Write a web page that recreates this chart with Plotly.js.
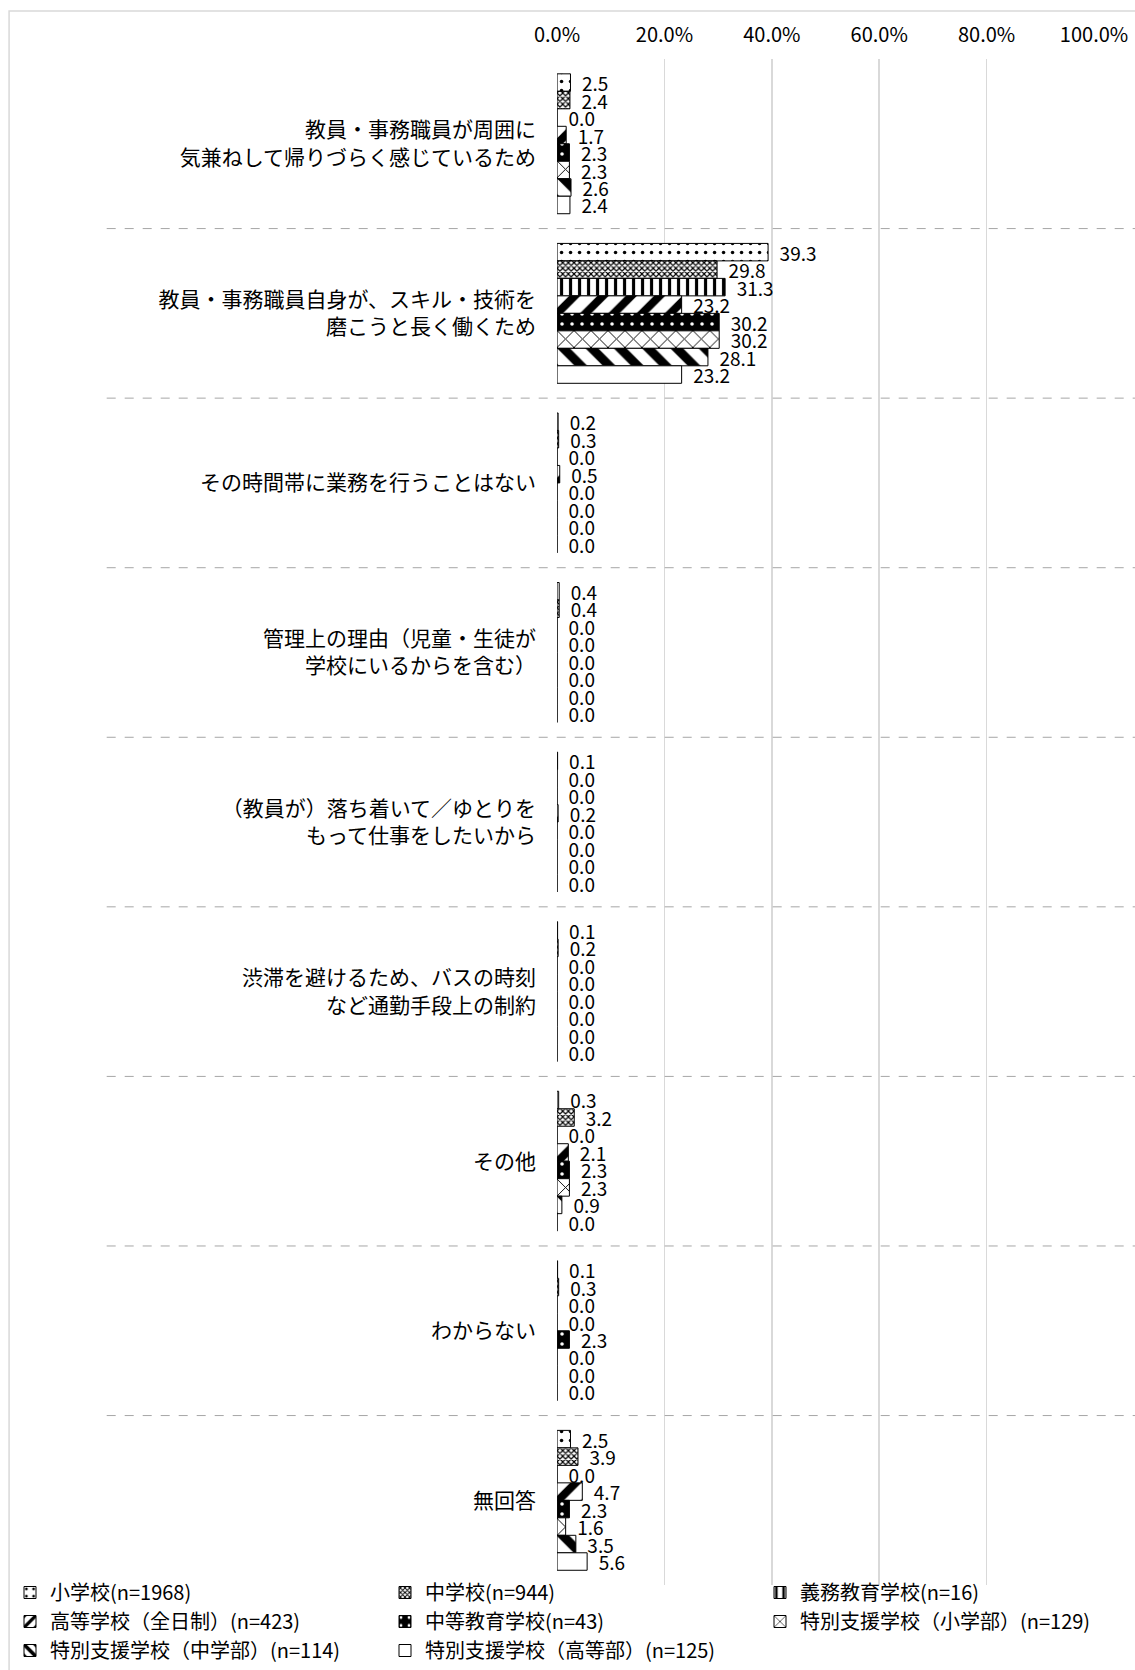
<!DOCTYPE html>
<html>
<head>
<meta charset="utf-8">
<script src="https://cdn.plot.ly/plotly-3.0.1.min.js"></script>
<style>
  html, body { margin: 0; padding: 0; background: #fff; }
  #chart { width: 1135px; height: 1670px; }
</style>
</head>
<body>
<div id="chart"></div>
<script>
(function() {
'use strict';

  // reasons (y categories), top to bottom
  var categories = [
    '教員・事務職員が周囲に<br>気兼ねして帰りづらく感じているため',
    '教員・事務職員自身が、スキル・技術を<br>磨こうと長く働くため',
    'その時間帯に業務を行うことはない',
    '管理上の理由（児童・生徒が<br>学校にいるからを含む）',
    '（教員が）落ち着いて／ゆとりを<br>もって仕事をしたいから',
    '渋滞を避けるため、バスの時刻<br>など通勤手段上の制約',
    'その他',
    'わからない',
    '無回答'
  ];

  var seriesNames = [
    '小学校(n=1968)',
    '中学校(n=944)',
    '義務教育学校(n=16)',
    '高等学校（全日制）(n=423)',
    '中等教育学校(n=43)',
    '特別支援学校（小学部）(n=129)',
    '特別支援学校（中学部）(n=114)',
    '特別支援学校（高等部）(n=125)'
  ];

  // percent values per school type
  var shogakko      = [2.5, 39.3, 0.2, 0.4, 0.1, 0.1, 0.3, 0.1, 2.5];
  var chugakko      = [2.4, 29.8, 0.3, 0.4, 0.0, 0.2, 3.2, 0.3, 3.9];
  var gimu          = [0.0, 31.3, 0.0, 0.0, 0.0, 0.0, 0.0, 0.0, 0.0];
  var koto          = [1.7, 23.2, 0.5, 0.0, 0.2, 0.0, 2.1, 0.0, 4.7];
  var chuto         = [2.3, 30.2, 0.0, 0.0, 0.0, 0.0, 2.3, 2.3, 2.3];
  var tokubetsuSho  = [2.3, 30.2, 0.0, 0.0, 0.0, 0.0, 2.3, 0.0, 1.6];
  var tokubetsuChu  = [2.6, 28.1, 0.0, 0.0, 0.0, 0.0, 0.9, 0.0, 3.5];
  var tokubetsuKoto = [2.4, 23.2, 0.0, 0.0, 0.0, 0.0, 0.0, 0.0, 5.6];

  var allValues = [shogakko, chugakko, gimu, koto, chuto,
                   tokubetsuSho, tokubetsuChu, tokubetsuKoto];

  // black & white fills like the printed report
  var patterns = [
    {shape: '.', fgcolor: '#000', bgcolor: '#fff', size: 9, solidity: 0.12},
    {shape: 'x', fgcolor: '#000', bgcolor: '#fff', size: 4, solidity: 0.5},
    {shape: '|', fgcolor: '#000', bgcolor: '#fff', size: 9, solidity: 0.35},
    {shape: '/', fgcolor: '#000', bgcolor: '#fff', size: 20, solidity: 0.4},
    {shape: '.', fgcolor: '#fff', bgcolor: '#000', size: 10, solidity: 0.1},
    {shape: 'x', fgcolor: '#000', bgcolor: '#fff', size: 12, solidity: 0.15},
    {shape: '\\', fgcolor: '#000', bgcolor: '#fff', size: 20, solidity: 0.45},
    {shape: '', fgcolor: '#000', bgcolor: '#fff', size: 8, solidity: 0.3}
  ];

  var data = allValues.map(function(vals, i) {
    return {
      type: 'bar',
      orientation: 'h',
      name: seriesNames[i],
      y: categories,
      x: vals,
      marker: {
        color: '#fff',
        line: {color: '#000', width: 1},
        pattern: patterns[i]
      },
      texttemplate: '  %{x:.1f}',
      textposition: 'outside',
      textfont: {size: 19, color: '#000'},
      constraintext: 'none',
      cliponaxis: false,
      hoverinfo: 'x+name'
    };
  });

  // dashed separators between reasons, reaching into the label area
  var shapes = [];
  for (var k = 1; k < categories.length; k++) {
    shapes.push({
      type: 'line', xref: 'paper', yref: 'y',
      x0: 0.094, x1: 1.0, y0: k - 0.5, y1: k - 0.5,
      line: {color: '#a6a6a6', width: 1, dash: 'dash'}
    });
  }
  // chart area border
  shapes.push({
    type: 'rect', xref: 'paper', yref: 'paper',
    x0: 0.008, x1: 1.1, y0: -0.1, y1: 1.0298,
    line: {color: '#d9d9d9', width: 1.5}, fillcolor: 'rgba(0,0,0,0)', layer: 'below'
  });

  var layout = {
    width: 1135,
    height: 1670,
    margin: {l: 0, r: 0, t: 59, b: 0},
    paper_bgcolor: '#fff',
    plot_bgcolor: 'rgba(0,0,0,0)',
    barmode: 'group',
    bargap: 0.175,
    bargroupgap: 0,
    font: {family: 'Noto Sans CJK JP, Noto Sans, sans-serif', size: 18, color: '#000'},
    xaxis: {
      domain: [0.4908, 0.9639],
      side: 'top',
      range: [0, 100],
      dtick: 20,
      tickformat: '.1f',
      ticksuffix: '%',
      showgrid: true,
      gridcolor: '#d9d9d9',
      gridwidth: 1.5,
      zeroline: false,
      showline: false,
      ticks: '',
      ticklabelstandoff: 12,
      tickfont: {size: 20}
    },
    yaxis: {
      domain: [0.0521, 1],
      type: 'category',
      autorange: 'reversed',
      showgrid: false,
      zeroline: false,
      showline: false,
      ticks: '',
      ticklabelstandoff: 20,
      tickfont: {size: 21}
    },
    showlegend: true,
    legend: {
      orientation: 'h',
      traceorder: 'normal',
      x: 0.0113,
      xanchor: 'left',
      y: 0.0596,
      yanchor: 'top',
      entrywidth: 330,
      entrywidthmode: 'pixels',
      itemwidth: 30,
      font: {size: 20},
      bgcolor: 'rgba(0,0,0,0)'
    },
    shapes: shapes
  };

  Plotly.newPlot('chart', data, layout, {displayModeBar: false, staticPlot: true});
}());
</script>
</body>
</html>
